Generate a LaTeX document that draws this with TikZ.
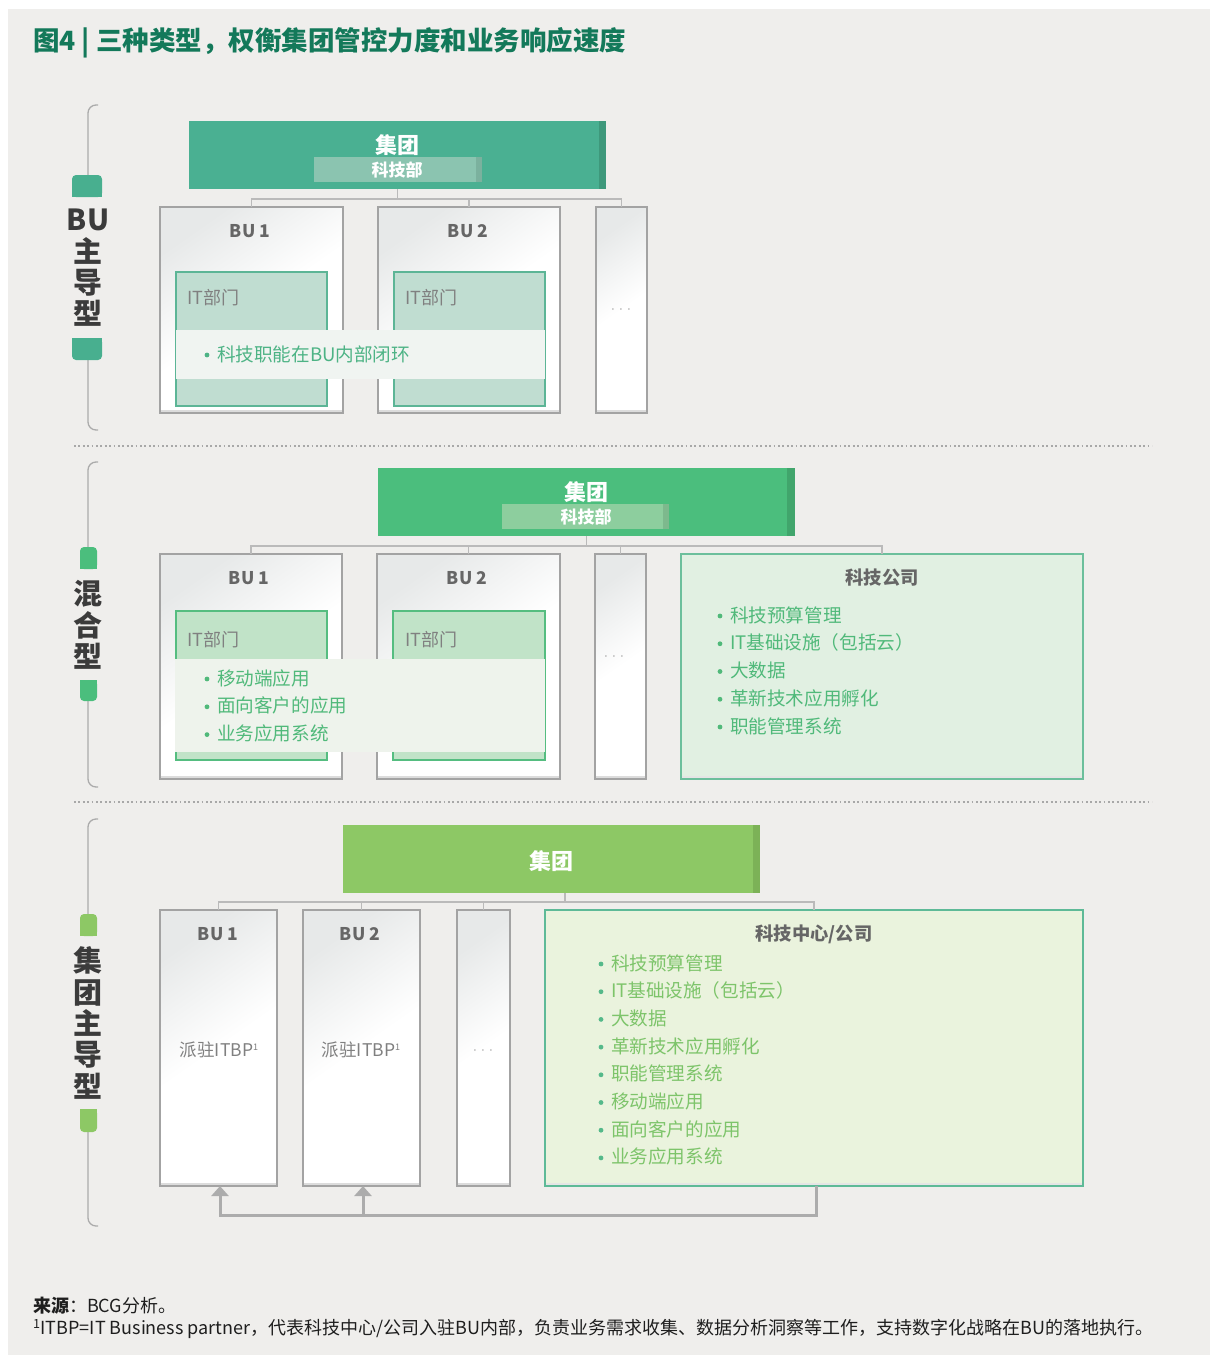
\documentclass[tikz,border=0pt]{standalone}
\usepackage{fontspec}
\setmainfont{Noto Sans CJK SC}
\usetikzlibrary{arrows.meta,calc}
\definecolor{bgc}{HTML}{EFEEEC}
\definecolor{titlec}{HTML}{13795A}
\definecolor{sidec}{HTML}{3B3B3B}
\definecolor{brkc}{HTML}{ABABAB}
\definecolor{tabA}{HTML}{48AF8F}
\definecolor{tabB}{HTML}{4BBE7D}
\definecolor{tabC}{HTML}{8DC865}
\definecolor{gA}{HTML}{4AB092}
\definecolor{gAd}{HTML}{3E987B}
\definecolor{gAs}{HTML}{8BC4B0}
\definecolor{gAsd}{HTML}{7BB19E}
\definecolor{gB}{HTML}{4BBE7D}
\definecolor{gBd}{HTML}{41A56C}
\definecolor{gBs}{HTML}{8DCE9E}
\definecolor{gBsd}{HTML}{7DB98D}
\definecolor{gC}{HTML}{8DC865}
\definecolor{gCd}{HTML}{7CB257}
\definecolor{conngray}{HTML}{BABABA}
\definecolor{bubord}{HTML}{A3A3A3}
\definecolor{bushade}{HTML}{E7E9E9}
\definecolor{bushadow}{HTML}{DCDCDC}
\definecolor{butext}{HTML}{666666}
\definecolor{ittext}{HTML}{808080}
\definecolor{itAf}{HTML}{C0DDD1}
\definecolor{itAb}{HTML}{5CB596}
\definecolor{itBf}{HTML}{C1E3C8}
\definecolor{itBb}{HTML}{55BD80}
\definecolor{ovA}{HTML}{F0F4F1}
\definecolor{ovB}{HTML}{EEF3EC}
\definecolor{txA}{HTML}{4DB385}
\definecolor{txB}{HTML}{50B97A}
\definecolor{txC}{HTML}{7DC46A}
\definecolor{dotC}{HTML}{55B98A}
\definecolor{coBf}{HTML}{E1F0E2}
\definecolor{coBb}{HTML}{6CBF9C}
\definecolor{coCf}{HTML}{EAF3DD}
\definecolor{coCb}{HTML}{5EBA97}
\definecolor{arrc}{HTML}{ACACAC}
\definecolor{sepc}{HTML}{A8A8A8}
\definecolor{fnc}{HTML}{1E1E1E}
\begin{document}
\begin{tikzpicture}[x=1pt,y=-1pt,
  txt/.style={inner sep=0pt,outer sep=0pt},
  blk/.style={inner sep=0pt,outer sep=0pt,anchor=north west},
  conn/.style={draw=conngray,line width=1.8pt},
  brk/.style={draw=brkc,line width=1.3pt},
  sep/.style={draw=sepc,line width=1.8pt,dash pattern=on 1.8pt off 2.6pt},
  bubox/.style={blk,draw=bubord,line width=1.6pt,top color=bushade,bottom color=white,middle color=white,shading angle=35,
    path picture={\fill[bushadow] (path picture bounding box.south west) rectangle ([yshift=3pt]path picture bounding box.south east);}},
  itA/.style={blk,draw=itAb,fill=itAf,line width=1.6pt},
  itB/.style={blk,draw=itBb,fill=itBf,line width=1.6pt},
  coB/.style={blk,draw=coBb,fill=coBf,line width=1.6pt,
    path picture={\fill[black!10] (path picture bounding box.south west) rectangle ([yshift=3pt]path picture bounding box.south east);}},
  coC/.style={blk,draw=coCb,fill=coCf,line width=1.6pt,
    path picture={\fill[black!10] (path picture bounding box.south west) rectangle ([yshift=3pt]path picture bounding box.south east);}},
  side/.style={txt,align=center,text=sidec,font=\bfseries\fontsize{29}{31.3}\selectfont},
  gtitle/.style={txt,text=white,font=\bfseries\fontsize{22}{24}\selectfont},
  gsub/.style={txt,text=white,font=\bfseries\fontsize{17}{20}\selectfont},
  bulab/.style={txt,text=butext,font=\bfseries\fontsize{17.5}{20}\selectfont},
  cotitle/.style={txt,text=butext,font=\bfseries\fontsize{18.3}{20}\selectfont},
  itlab/.style={txt,anchor=west,text=ittext,font=\fontsize{18}{20}\selectfont},
  dots/.style={txt,text=black!55,font=\fontsize{13}{14}\selectfont},
  item/.style={txt,anchor=west,font=\fontsize{18.6}{20}\selectfont},
  arr/.style={draw=arrc,line width=3pt,-{Triangle[width=17pt,length=10pt]}},
  fn/.style={txt,anchor=west,text=fnc,font=\fontsize{18}{20}\selectfont}
]
\useasboundingbox (0,0) rectangle (1210,1355);
\fill[white] (0,0) rectangle (1210,1355);
\fill[bgc] (8,9) rectangle (1210,1355);

% title
\node[txt,anchor=west,text=titlec,font=\bfseries\fontsize{26.5}{28}\selectfont] (title) at (33,43) {图4 | 三种类型，权衡集团管控力度和业务响应速度};

% separators
\coordinate (s1a) at (74,446); \coordinate (s1b) at (1152,446);
\coordinate (s2a) at (74,802); \coordinate (s2b) at (1152,802);
\draw[sep] (s1a) -- (s1b);
\draw[sep] (s2a) -- (s2b);

% ---------- side labels ----------
% section 1
\draw[brk,rounded corners=8pt] (98,105) -- (88,105) -- (88,176);
\draw[brk,rounded corners=8pt] (88,358) -- (88,430) -- (98,430);
\fill[tabA,rounded corners=4pt] (72,175) rectangle (102,197);
\fill[tabA] (72,186) rectangle (102,197);
\fill[tabA,rounded corners=4pt] (72,338) rectangle (102,360);
\fill[tabA] (72,338) rectangle (102,349);
\node[side] (side1) at (88,268) {BU\\主\\导\\型};
% section 2
\draw[brk,rounded corners=8pt] (98,462) -- (88,462) -- (88,548);
\draw[brk,rounded corners=8pt] (88,700) -- (88,787) -- (98,787);
\fill[tabB,rounded corners=4pt] (80,547) rectangle (97,569);
\fill[tabB] (80,558) rectangle (97,569);
\fill[tabB,rounded corners=4pt] (80,680) rectangle (97,701);
\fill[tabB] (80,680) rectangle (97,690);
\node[side] (side2) at (88,625) {混\\合\\型};
% section 3
\draw[brk,rounded corners=8pt] (98,819) -- (88,819) -- (88,915);
\draw[brk,rounded corners=8pt] (88,1131) -- (88,1226) -- (98,1226);
\fill[tabC,rounded corners=4pt] (80,914) rectangle (97,936);
\fill[tabC] (80,925) rectangle (97,936);
\fill[tabC,rounded corners=4pt] (80,1109) rectangle (97,1132);
\fill[tabC] (80,1109) rectangle (97,1120);
\node[side] (side3) at (88,1023) {集\\团\\主\\导\\型};

% ---------- section 1 ----------
\node[blk,fill=gA,minimum width=417pt,minimum height=68pt] (g1) at (189,121) {};
\fill[gAd] (599,121) rectangle (606,189);
\node[blk,fill=gAs,minimum width=168pt,minimum height=25pt] (s1) at (314,157) {};
\fill[gAsd] (476,157) rectangle (482,182);
\node[gtitle] (g1t) at (397,145) {集团};
\node[gsub] (s1t) at (397,170) {科技部};

\node[bubox,minimum width=183pt,minimum height=206pt] (b11) at (160,207) {};
\node[bubox,minimum width=182pt,minimum height=206pt] (b12) at (378,207) {};
\node[bubox,minimum width=51pt,minimum height=206pt] (b13) at (596,207) {};
\draw[conn] (g1.south) -- ++(0,10) -| (b11.north);
\draw[conn] (g1.south) -- ++(0,10) -| (b12.north);
\draw[conn] (g1.south) -- ++(0,10) -| (b13.north);
\node[bulab] (b11t) at (250,231) {BU 1};
\node[bulab] (b12t) at (468,231) {BU 2};
\node[dots] (b13t) at (621,310) {$\cdot\,\cdot\,\cdot$};
\node[itA,minimum width=151pt,minimum height=134pt] (it11) at (176,272) {};
\node[itA,minimum width=151pt,minimum height=134pt] (it12) at (394,272) {};
\node[itlab] (it11t) at (187,298) {IT部门};
\node[itlab] (it12t) at (405,298) {IT部门};
\node[blk,fill=ovA,minimum width=369pt,minimum height=49pt] (ov1) at (176,330) {};
\fill[txA] (207,355) circle[radius=2.4pt];
\node[item,text=txA] (ov1a) at (217,354) {科技职能在BU内部闭环};

% ---------- section 2 ----------
\node[blk,fill=gB,minimum width=417pt,minimum height=68pt] (g2) at (378,468) {};
\fill[gBd] (787,468) rectangle (795,536);
\node[blk,fill=gBs,minimum width=167pt,minimum height=25pt] (s2) at (502,504) {};
\fill[gBsd] (663,504) rectangle (669,529);
\node[gtitle] (g2t) at (586,492) {集团};
\node[gsub] (s2t) at (586,517) {科技部};

\node[bubox,minimum width=182pt,minimum height=225pt] (b21) at (160,554) {};
\node[bubox,minimum width=183pt,minimum height=225pt] (b22) at (377,554) {};
\node[bubox,minimum width=51pt,minimum height=225pt] (b23) at (595,554) {};
\node[coB,minimum width=402pt,minimum height=225pt] (co2) at (681,554) {};
\draw[conn] (g2.south) -- ++(0,10) -| (b21.north);
\draw[conn] (g2.south) -- ++(0,10) -| (b22.north);
\draw[conn] (g2.south) -- ++(0,10) -| (b23.north);
\draw[conn] (g2.south) -- ++(0,10) -| (co2.north);
\node[bulab] (b21t) at (249,578) {BU 1};
\node[bulab] (b22t) at (467,578) {BU 2};
\node[dots] (b23t) at (614,657) {$\cdot\,\cdot\,\cdot$};
\node[itB,minimum width=151pt,minimum height=149pt] (it21) at (176,611) {};
\node[itB,minimum width=152pt,minimum height=149pt] (it22) at (393,611) {};
\node[itlab] (it21t) at (187,640) {IT部门};
\node[itlab] (it22t) at (405,640) {IT部门};
\node[blk,fill=ovB,minimum width=370pt,minimum height=93pt] (ov2) at (175,659) {};
\foreach \t [count=\i] in {移动端应用,面向客户的应用,业务应用系统}{
  \fill[txB] ({207},{679+27.8*(\i-1)}) circle[radius=2.4pt];
  \node[item,text=txB] (ov2l\i) at ({217},{678+27.8*(\i-1)}) {\t};
}
\node[cotitle] (co2t) at (882,578) {科技公司};
\foreach \t [count=\i] in {科技预算管理,IT基础设施（包括云）,大数据,革新技术应用孵化,职能管理系统}{
  \fill[txB] ({720},{616+27.75*(\i-1)}) circle[radius=2.4pt];
  \node[item,text=txB] (co2l\i) at ({730},{615+27.75*(\i-1)}) {\t};
}

% ---------- section 3 ----------
\node[blk,fill=gC,minimum width=417pt,minimum height=68pt] (g3) at (343,825) {};
\fill[gCd] (753,825) rectangle (760,893);
\node[gtitle] (g3t) at (551,861) {集团};
\coordinate (g3d) at (565,893);

\node[bubox,minimum width=117pt,minimum height=276pt] (b31) at (160,910) {};
\node[bubox,minimum width=117pt,minimum height=276pt] (b32) at (303,910) {};
\node[bubox,minimum width=53pt,minimum height=276pt] (b33) at (457,910) {};
\node[coC,minimum width=538pt,minimum height=276pt] (co3) at (545,910) {};
\draw[conn] (g3d) -- ++(0,9) -| (b31.north);
\draw[conn] (g3d) -- ++(0,9) -| (b32.north);
\draw[conn] (g3d) -- ++(0,9) -| (b33.north);
\draw[conn] (g3d) -- ++(0,9) -| (co3.north);
\node[bulab] (b31t) at (218,934) {BU 1};
\node[bulab] (b32t) at (360,934) {BU 2};
\node[txt,text=ittext,font=\fontsize{17.5}{20}\selectfont] (b31i) at (219,1050) {派驻ITBP{\fontsize{9}{10}\selectfont\raisebox{6pt}{1}}};
\node[txt,text=ittext,font=\fontsize{17.5}{20}\selectfont] (b32i) at (361,1050) {派驻ITBP{\fontsize{9}{10}\selectfont\raisebox{6pt}{1}}};
\node[dots] (b33t) at (483,1051) {$\cdot\,\cdot\,\cdot$};
\node[cotitle] (co3t) at (814,934) {科技中心/公司};
\foreach \t [count=\i] in {科技预算管理,IT基础设施（包括云）,大数据,革新技术应用孵化,职能管理系统,移动端应用,面向客户的应用,业务应用系统}{
  \fill[dotC] ({601},{964+27.7*(\i-1)}) circle[radius=2.4pt];
  \node[item,text=txC] (co3l\i) at ({611},{963+27.7*(\i-1)}) {\t};
}
% arrows back to BUs
\coordinate (ybot) at (0,1215);
\coordinate (co3b) at ($(co3.south)+(2,0)$);
\draw[arr] (co3b) -- (co3b |- ybot) -| ([xshift=1.5pt]b31.south);
\draw[arr] ([xshift=1.5pt]b32.south |- ybot) -- ([xshift=1.5pt]b32.south);

% footnotes
\node[fn] (src) at (33,1306) {\textbf{来源}：BCG分析。};
\node[fn] (note) at (33,1329) {\textsuperscript{1}ITBP=IT Business partner，代表科技中心/公司入驻BU内部，负责业务需求收集、数据分析洞察等工作，支持数字化战略在BU的落地执行。};
\end{tikzpicture}
\end{document}
